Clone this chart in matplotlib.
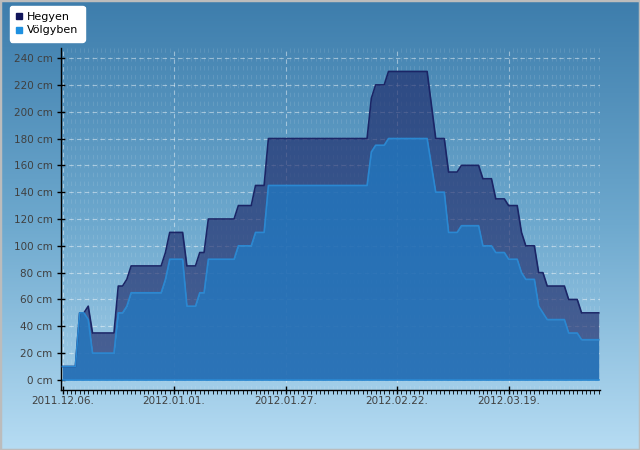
import matplotlib
matplotlib.use('Agg')
import matplotlib.pyplot as plt
import matplotlib.dates as mdates
from matplotlib.colors import LinearSegmentedColormap
from matplotlib.lines import Line2D
from matplotlib.patches import Rectangle
import numpy as np
import pandas as pd

# hóvastagság (cm) - töréspontok, a köztes napok egyenes szakaszok
dates = ['2011-12-06', '2011-12-09', '2011-12-10', '2011-12-11', '2011-12-12', '2011-12-13',
         '2011-12-18', '2011-12-19', '2011-12-20', '2011-12-21', '2011-12-22', '2011-12-29',
         '2011-12-30', '2011-12-31', '2012-01-03', '2012-01-04', '2012-01-06', '2012-01-07',
         '2012-01-08', '2012-01-09', '2012-01-15', '2012-01-16', '2012-01-19', '2012-01-20',
         '2012-01-22', '2012-01-23', '2012-02-15', '2012-02-16', '2012-02-17', '2012-02-19',
         '2012-02-20', '2012-02-29', '2012-03-01', '2012-03-02', '2012-03-04', '2012-03-05',
         '2012-03-07', '2012-03-08', '2012-03-12', '2012-03-13', '2012-03-15', '2012-03-16',
         '2012-03-18', '2012-03-19', '2012-03-21', '2012-03-22', '2012-03-23', '2012-03-25',
         '2012-03-26', '2012-03-27', '2012-03-28', '2012-04-01', '2012-04-02', '2012-04-04',
         '2012-04-05', '2012-04-09']
hegyen = [10, 10, 50, 50, 55, 35,
          35, 70, 70, 75, 85, 85,
          95, 110, 110, 85, 85, 95,
          95, 120, 120, 130, 130, 145,
          145, 180, 180, 210, 220, 220,
          230, 230, 205, 180, 180, 155,
          155, 160, 160, 150, 150, 135,
          135, 130, 130, 110, 100, 100,
          80, 80, 70, 70, 60, 60,
          50, 50]
volgyben = [10, 10, 50, 50, 45, 20,
            20, 50, 50, 55, 65, 65,
            75, 90, 90, 55, 55, 65,
            65, 90, 90, 100, 100, 110,
            110, 145, 145, 170, 175, 175,
            180, 180, 160, 140, 140, 110,
            110, 115, 115, 100, 100, 95,
            95, 90, 90, 80, 75, 75,
            55, 50, 45, 45, 35, 35,
            30, 30]
tick_dates = ['2011-12-06', '2012-01-01', '2012-01-27', '2012-02-22', '2012-03-19']
y_ticks = [0, 20, 40, 60, 80, 100, 120, 140, 160, 180, 200, 220, 240]

x = pd.to_datetime(dates)

fig = plt.figure(figsize=(6.4, 4.5), dpi=100)

# háttér színátmenet
bg = fig.add_axes([0, 0, 1, 1], zorder=-10)
cmap = LinearSegmentedColormap.from_list('bg', ['#3d7dac', '#6ea9ce', '#b6dcf3'])
bg.imshow(np.linspace(0, 1, 256)[:, None], aspect='auto', cmap=cmap, extent=[0, 1, 0, 1])
bg.add_patch(Rectangle((0, 0), 1, 1, transform=bg.transAxes, fill=False,
                       edgecolor='#bcbcbc', lw=2.5))
bg.axis('off')

ax = fig.add_axes([61 / 640, 60 / 450, 539 / 640, 342 / 450])
ax.patch.set_alpha(0)

ax.fill_between(x, volgyben, hegyen, color='#1e2a6a', alpha=0.66, lw=0, zorder=2)
ax.plot(x, hegyen, color='#1b2566', lw=1.2, zorder=3)
ax.fill_between(x, 0, volgyben, color='#1f6ab2', alpha=0.9, lw=0, zorder=2)
ax.plot(x, volgyben, color='#2a88d2', lw=1.2, zorder=3)
ax.plot([x[0], x[-1]], [0, 0], color='#2a88d2', lw=1.2, zorder=3)

start = mdates.date2num(x[0])
ax.set_xlim(start - 0.35, start + 125.3)
ax.set_ylim(-7.5, 247.5)

ticks = pd.to_datetime(tick_dates)
ax.set_xticks(ticks)
ax.set_xticklabels([t.strftime('%Y.%m.%d.') for t in ticks])
ax.xaxis.set_minor_locator(mdates.DayLocator())
ax.set_yticks(y_ticks)
ax.set_yticklabels([f'{v} cm' for v in y_ticks])

ax.set_axisbelow(True)
ax.grid(which='major', color='white', alpha=0.45, ls=(0, (4, 3)), lw=0.8)
ax.grid(which='minor', axis='x', color='white', alpha=0.1, ls=(0, (4, 4)), lw=0.8)

for s in ['top', 'right']:
    ax.spines[s].set_visible(False)
for s in ['left', 'bottom']:
    ax.spines[s].set_color('black')
    ax.spines[s].set_linewidth(1)

ax.tick_params(which='major', direction='inout', length=6, width=1,
               labelcolor='#404040', labelsize=7.5)
ax.tick_params(axis='y', pad=3)
ax.tick_params(axis='x', pad=1.5)
ax.tick_params(which='minor', axis='x', direction='out', length=3, width=0.6)

handles = [Line2D([], [], marker='s', ls='none', color='#10145a', markersize=5, label='Hegyen'),
           Line2D([], [], marker='s', ls='none', color='#1e90e0', markersize=5, label='Völgyben')]
fig.legend(handles=handles, loc='upper left', bbox_to_anchor=(10 / 640, 1 - 6 / 450),
           frameon=True, fancybox=True, facecolor='white', edgecolor='white', framealpha=1,
           fontsize=8, handlelength=0.6, handletextpad=0.4, borderpad=0.55,
           labelspacing=0.3, borderaxespad=0)

fig.savefig('out.png', dpi=100)
